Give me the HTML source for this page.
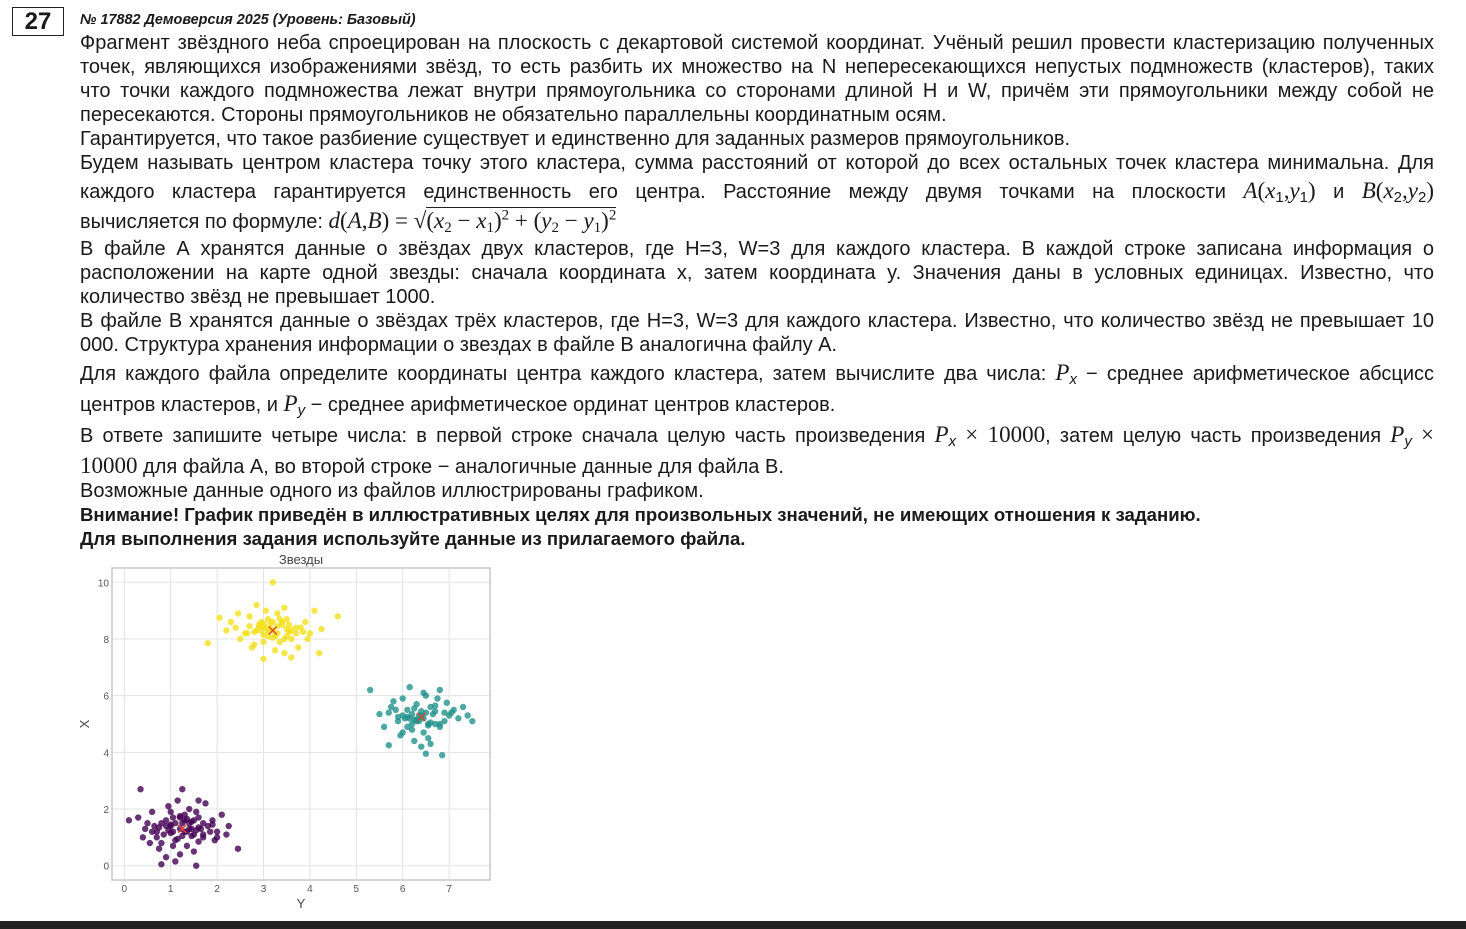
<!DOCTYPE html>
<html><head><meta charset="utf-8">
<style>
html,body{margin:0;padding:0;background:#fff;width:1466px;height:929px;overflow:hidden;position:relative;font-family:"Liberation Sans","Noto Sans CJK SC",sans-serif;color:#1a1a1a}
.ln{position:absolute;left:80px;width:1354px;font-size:20px;line-height:24px;white-space:nowrap}
.j{text-align:justify;text-align-last:justify;white-space:normal;height:24px;overflow:hidden}
.m{font-family:"Liberation Serif",serif;font-style:italic;font-size:23px}
.mr{font-family:"Liberation Serif",serif;font-size:23px}
sub{font-size:15px;vertical-align:-4px;line-height:0}
sup{font-size:15px;line-height:0}
.bl{font-weight:bold;font-size:18.6px}
</style></head><body>
<div style="position:absolute;left:12px;top:7px;width:50px;height:27px;border:1px solid #222;font-size:24px;font-weight:bold;text-align:center;line-height:27px">27</div>
<div style="position:absolute;left:80px;top:12px;font-size:14.4px;font-weight:bold;font-style:italic">№ 17882 Демоверсия 2025 (Уровень: Базовый)</div>

<div>
<div class="ln j" style="top:31px">Фрагмент звёздного неба спроецирован на плоскость с декартовой системой координат. Учёный решил провести кластеризацию полученных</div>
<div class="ln j" style="top:55px">точек, являющихся изображениями звёзд, то есть разбить их множество на N непересекающихся непустых подмножеств (кластеров), таких</div>
<div class="ln j" style="top:79px">что точки каждого подмножества лежат внутри прямоугольника со сторонами длиной H и W, причём эти прямоугольники между собой не</div>
<div class="ln" style="top:103px">пересекаются. Стороны прямоугольников не обязательно параллельны координатным осям.</div>
<div class="ln" style="top:127px">Гарантируется, что такое разбиение существует и единственно для заданных размеров прямоугольников.</div>
<div class="ln j" style="top:151px">Будем называть центром кластера точку этого кластера, сумма расстояний от которой до всех остальных точек кластера минимальна. Для</div>
<div class="ln j" style="top:176px;height:30px;line-height:30px">каждого кластера гарантируется единственность его центра. Расстояние между двумя точками на плоскости <span class="m">A</span><span class="mr">(</span><span class="m">x</span><sub>1</sub><span class="mr">,</span><span class="m">y</span><sub>1</sub><span class="mr">)</span> и <span class="m">B</span><span class="mr">(</span><span class="m">x</span><sub>2</sub><span class="mr">,</span><span class="m">y</span><sub>2</sub><span class="mr">)</span></div>
<div class="ln" style="top:206px;height:30px;line-height:30px">вычисляется по формуле: <span class="m">d</span><span class="mr">(</span><span class="m">A</span><span class="mr">,</span><span class="m">B</span><span class="mr">) = √<span style="border-top:1px solid #222">(<i>x</i><sub>2</sub> − <i>x</i><sub>1</sub>)<sup>2</sup> + (<i>y</i><sub>2</sub> − <i>y</i><sub>1</sub>)<sup>2</sup></span></span></div>
<div class="ln j" style="top:237px">В файле А хранятся данные о звёздах двух кластеров, где H=3, W=3 для каждого кластера. В каждой строке записана информация о</div>
<div class="ln j" style="top:261px">расположении на карте одной звезды: сначала координата x, затем координата y. Значения даны в условных единицах. Известно, что</div>
<div class="ln" style="top:285px">количество звёзд не превышает 1000.</div>
<div class="ln j" style="top:309px">В файле B хранятся данные о звёздах трёх кластеров, где H=3, W=3 для каждого кластера. Известно, что количество звёзд не превышает 10</div>
<div class="ln" style="top:333px">000. Структура хранения информации о звездах в файле B аналогична файлу А.</div>
<div class="ln j" style="top:358px;height:30px;line-height:30px">Для каждого файла определите координаты центра каждого кластера, затем вычислите два числа: <span class="m">P</span><sub><i>x</i></sub> − среднее арифметическое абсцисс</div>
<div class="ln" style="top:389px;height:30px;line-height:30px">центров кластеров, и <span class="m">P</span><sub><i>y</i></sub> − среднее арифметическое ординат центров кластеров.</div>
<div class="ln j" style="top:420px;height:30px;line-height:30px">В ответе запишите четыре числа: в первой строке сначала целую часть произведения <span class="m">P</span><sub><i>x</i></sub> <span class="mr">× 10000</span>, затем целую часть произведения <span class="m">P</span><sub><i>y</i></sub> <span class="mr">×</span></div>
<div class="ln" style="top:451px;height:30px;line-height:30px"><span class="mr">10000</span> для файла А, во второй строке − аналогичные данные для файла B.</div>
<div class="ln" style="top:479px">Возможные данные одного из файлов иллюстрированы графиком.</div>
<div class="ln bl" style="top:503px">Внимание! График приведён в иллюстративных целях для произвольных значений, не имеющих отношения к заданию.</div>
<div class="ln bl" style="top:527px">Для выполнения задания используйте данные из прилагаемого файла.</div>
</div>

<svg id="chart" style="position:absolute;left:0;top:0" width="1466" height="929"></svg>
<div style="position:absolute;left:0;top:921px;width:1466px;height:8px;background:#222"></div>

<script>
const xTicks=[0,1,2,3,4,5,6,7];
const yTicks=[0,2,4,6,8,10];
const purpleX=[1.2,0.9,1.5,1.3,0.7,1.8,1.1,1.6,0.5,2.0,1.4,0.8,1.0,1.7,1.25,0.6,1.9,1.45,0.95,1.35,0.3,2.2,1.05,1.55,0.75,1.15,1.65,0.4,2.1,1.5,0.85,1.3,1.75,1.0,0.55,1.95,1.2,1.4,0.65,2.45,0.1,0.35,1.25,1.55,0.8,1.1,1.85,1.6,0.9,1.35,0.45,2.25,1.7,1.05,1.45,0.7,1.2,1.0,1.6,0.95,1.1,1.3,1.5,0.9,1.7,1.2,1.4,0.8,1.6,1.0,1.35,1.15,1.55,0.75,1.9,1.25,1.45,1.05,0.6,2.0];
const purpleY=[1.3,1.6,1.1,1.8,1.2,1.4,0.9,1.7,1.5,1.2,2.0,0.8,1.4,1.0,1.5,1.9,1.6,1.3,2.1,0.7,1.7,1.1,1.2,1.9,0.6,2.3,1.3,1.0,1.8,0.5,1.1,1.6,2.2,1.9,0.8,0.9,0.4,1.5,1.4,0.6,1.6,2.7,2.7,0.0,0.05,0.15,1.2,2.3,0.3,1.2,1.3,1.4,1.5,0.7,1.05,1.0,1.75,1.45,0.85,1.25,1.5,1.2,1.6,1.4,1.1,1.7,1.3,1.5,1.35,1.15,1.65,0.95,1.25,1.35,1.45,1.05,1.55,1.7,1.2,1.0];
const yellowX=[3.2,2.9,3.5,3.1,2.6,3.8,3.0,3.4,2.4,4.0,3.3,2.8,3.6,2.7,3.15,2.5,3.9,3.45,2.95,3.25,2.2,4.2,3.05,3.55,2.75,3.35,3.7,2.3,4.1,3.0,1.8,2.05,4.6,3.45,3.2,4.25,3.6,2.85,3.75,3.1,3.3,2.65,3.95,3.5,3.0,2.45,3.85,3.2,3.1,3.3,2.9,3.5,3.0,3.4,2.8,3.6,3.2,3.15,2.7,3.7,3.25,2.95,3.45,3.05,3.35,2.85,3.55,3.0];
const yellowY=[8.3,8.5,8.1,8.7,8.2,8.4,7.9,8.6,8.4,8.2,8.9,7.8,8.0,8.8,8.35,8.0,8.6,9.1,8.3,7.6,8.3,7.5,9.0,8.5,7.7,7.9,8.4,8.6,9.0,7.3,7.85,8.75,8.8,7.5,8.6,8.35,7.35,9.2,7.7,8.1,8.45,8.2,8.0,8.7,8.55,8.9,8.25,10.0,8.3,8.2,8.4,8.35,8.15,8.5,8.25,8.3,8.05,8.55,8.45,8.2,8.1,8.6,8.0,8.4,8.7,8.3,8.25,8.45];
const tealX=[6.4,6.1,6.7,6.3,5.9,7.0,6.2,6.6,5.7,7.2,6.5,6.0,6.8,5.8,6.35,5.6,7.1,6.45,6.05,6.55,5.3,7.5,6.25,6.75,5.95,6.15,6.9,5.5,7.3,6.4,6.0,6.6,6.8,5.7,6.2,7.4,6.5,5.85,6.95,6.3,6.1,6.7,7.05,6.45,5.75,6.85,6.25,6.55,6.4,6.3,6.5,6.2,6.6,6.1,6.7,6.35,6.45,6.0,6.8,6.25,6.55,6.15,6.65,6.4,6.9,5.9];
const tealY=[5.25,5.5,5.0,5.7,5.1,5.3,4.8,5.6,5.4,5.2,6.0,4.7,4.9,5.8,5.3,4.9,5.5,6.1,5.2,4.5,6.2,5.1,4.4,5.9,4.6,6.3,5.4,5.35,5.6,4.2,5.9,4.3,6.2,4.25,5.0,5.3,3.95,5.5,5.75,5.1,4.9,5.65,5.4,4.7,5.6,3.9,5.15,5.0,5.3,5.15,5.4,5.35,5.05,5.25,5.45,5.1,5.2,5.3,5.0,5.55,4.95,5.2,5.35,5.45,5.1,5.25];
const centersX=[1.25,3.2,6.4];
const centersY=[1.3,8.3,5.25];

const NS='http://www.w3.org/2000/svg';
const svg=document.getElementById('chart');
const L=112,R=490,T=568,B=880;
const sx=v=>124.3+v*46.4;
const sy=v=>865.7-v*28.34;
function el(tag,attrs,parent){const e=document.createElementNS(NS,tag);for(const k in attrs)e.setAttribute(k,attrs[k]);(parent||svg).appendChild(e);return e;}

xTicks.forEach(t=>{
  const g=el('line',{x1:sx(t),x2:sx(t),y1:T,y2:B,stroke:'#e3e3e3','stroke-width':1});
  
  
  const tx=el('text',{x:sx(t),y:B+12,'font-size':10,'text-anchor':'middle',fill:'#555','font-family':'Liberation Sans, sans-serif'});
  tx.textContent=t;
  
  
});
yTicks.forEach(t=>{
  const g=el('line',{x1:L,x2:R,y1:sy(t),y2:sy(t),stroke:'#e3e3e3','stroke-width':1});
  
  
  const tx=el('text',{x:L-3,y:sy(t)+4,'font-size':10,'text-anchor':'end',fill:'#555','font-family':'Liberation Sans, sans-serif'});
  tx.textContent=t;
  
  
});
const fr=el('rect',{x:L,y:T,width:R-L,height:B-T,fill:'none',stroke:'#c8c8c8','stroke-width':1.5});



function cluster(xs,ys,color,name){
  xs.forEach((x,i)=>{
    const c=el('circle',{cx:sx(x),cy:sy(ys[i]),r:3.2,fill:color,'fill-opacity':0.8});
    
    
  });
}
cluster(purpleX,purpleY,'#440154','purple-star-point');
cluster(yellowX,yellowY,'#f2e01e','yellow-star-point');
cluster(tealX,tealY,'#21918c','teal-star-point');
centersX.forEach((x,i)=>{
  const cx=sx(x),cy=sy(centersY[i]);
  const p=el('path',{d:`M${cx-4},${cy-4}L${cx+4},${cy+4}M${cx-4},${cy+4}L${cx+4},${cy-4}`,stroke:'#e8412c','stroke-width':1.3});
  
  
});
const title=el('text',{x:301,y:564,'font-size':13,'text-anchor':'middle',fill:'#444','font-family':'Liberation Sans, sans-serif'});
title.textContent='Звезды';


const xl=el('text',{x:301,y:908,'font-size':13,'text-anchor':'middle',fill:'#444','font-family':'Liberation Sans, sans-serif'});
xl.textContent='Y';


const yl=el('text',{x:0,y:0,'font-size':13,'text-anchor':'middle',fill:'#444','font-family':'Liberation Sans, sans-serif',transform:'translate(89,724) rotate(-90)'});
yl.textContent='X';


</script>
</body></html>
